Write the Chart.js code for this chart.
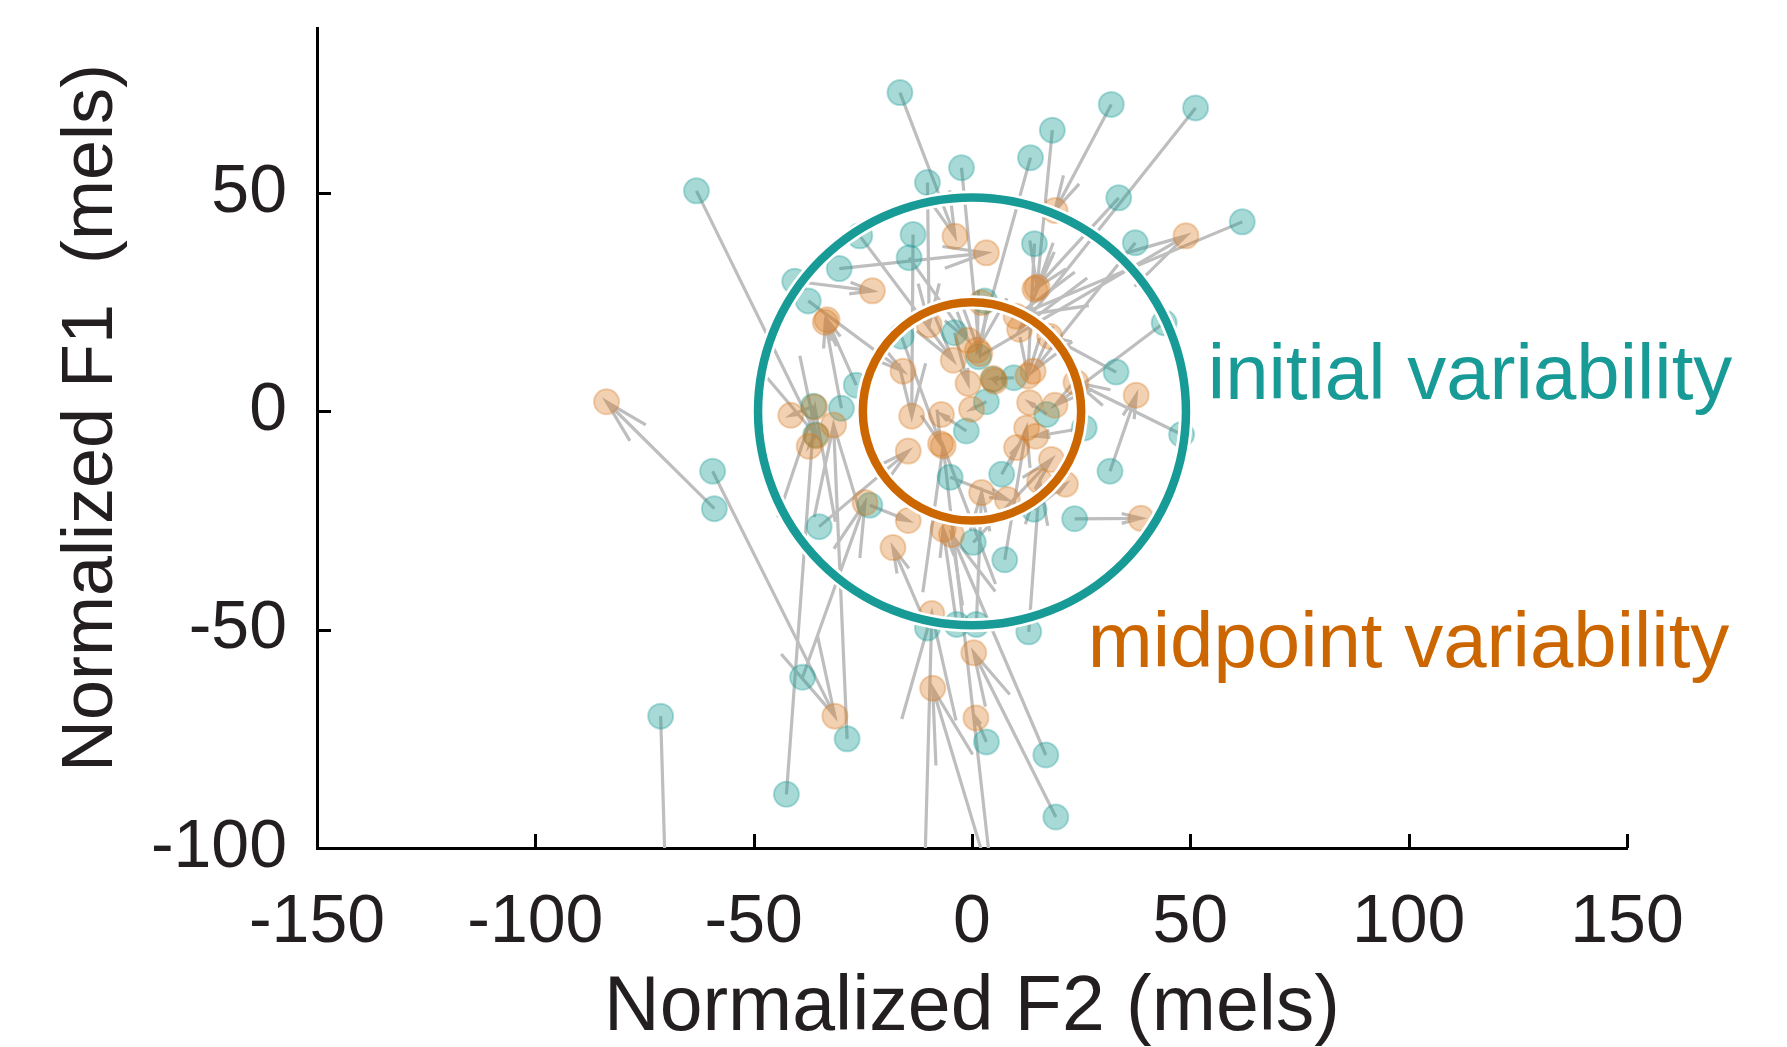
<!DOCTYPE html>
<html>
<head>
<meta charset="utf-8">
<title>Normalized F1 / F2</title>
<script src="https://cdn.jsdelivr.net/npm/chart.js@4.4.1/dist/chart.umd.min.js"></script>
<style>
  html,body{margin:0;padding:0;background:#fff;}
  canvas{display:block;}
</style>
</head>
<body>
<canvas id="ch" width="1787" height="1047"></canvas>
<script>
/* ===== data: one trial per index, initial (teal) -> midpoint (orange) ===== */
const initF2 = [-16.5, 31.9, 51.2, 18.4, 13.4, -63.1, -2.4, -10.2, 33.6, 61.9,
  -25.7, -13.5, 37.4, 14.3, -14.4, -30.4, -40.6, -37.5, 2.9, 44.0,
  -16.2, -4.0, 1.5, 33.0, -26.5, -29.9, 3.3, 9.6, 48.0, 25.7,
  -1.3, -59.4, 31.6, -5.0, 6.8, -59.0, -23.4, -35.0, 14.2, 23.5,
  0.3, 7.5, -10.2, -3.5, 1.0, 13.0, -38.8, -71.3, -28.6, 3.3,
  16.9, -42.5, 19.2, 17.1, -36.3, -35.8, 4.9, -11.5, 6.0, 8.0];
const initF1 = [73.0, 70.3, 69.5, 64.4, 58.1, 50.5, 55.8, 52.4, 48.9, 43.4,
  40.2, 40.5, 38.6, 38.4, 35.2, 32.7, 29.8, 25.3, 25.3, 20.3,
  17.2, 18.0, 12.5, 9.0, 6.0, 0.7, 2.2, 7.7, -5.3, -3.8,
  -4.5, -13.7, -13.7, -15.1, -14.4, -22.3, -21.5, -26.4, -22.4, -24.6,
  -30.0, -34.0, -49.6, -48.8, -48.8, -50.5, -60.9, -69.8, -75.0, -75.7,
  -78.7, -87.7, -92.9, -0.7, 1.2, -5.4, 7.3, -130, -120, -120];
const midF2 = [-3.9, 19.0, 10.9, 14.9, 1.2, -35.6, 1.8, -9.8, 14.4, 10.1,
  -4.3, -13.8, 14.0, 12.8, -0.9, 3.3, -22.8, -15.8, 2.2, 19.0,
  -7.2, -0.9, 49.0, 17.8, -33.2, -33.6, -0.1, 4.8, 23.8, 14.6,
  -7.0, -31.4, 37.6, 8.1, 10.2, -83.7, -14.6, -14.6, 21.4, 38.7,
  18.2, 12.5, -18.1, -6.6, 2.2, 15.5, -24.5, -69.5, -31.7, 0.9,
  -4.7, -36.0, 0.4, 13.2, -41.5, -37.3, 5.2, -9.2, -6.6, -9.0];
const midF1 = [40.1, 46.0, 18.8, 28.4, 14.0, -5.6, 13.2, 19.8, 28.0, 21.8,
  11.7, -1.1, 9.2, 8.1, 16.3, 36.3, 27.6, 9.2, 24.9, 1.4,
  -7.4, 6.4, 40.2, 17.2, 21.0, 20.4, 0.5, 7.5, 6.6, -5.7,
  -0.7, -69.8, 3.7, -20.2, -8.3, 2.2, -25.0, -9.1, -16.7, -24.5,
  -11.0, -3.8, -31.2, -27.0, -18.6, -16.0, -20.9, -130, -3.1, -70.2,
  -28.2, 1.0, -55.3, 2.0, -0.9, -8.0, 6.9, -46.3, -7.9, -63.4];

// variability circles (radius in mels): initial, midpoint
const ringRadius = [49, 25];
const ringLabels = ['initial variability', 'midpoint variability'];

const xTicks = [-150, -100, -50, 0, 50, 100, 150];
const yTicks = [-100, -50, 0, 50];

/* ===== styles ===== */
const TEAL = 'rgb(24,154,150)';
const ORANGE = 'rgb(204,102,0)';
const INK = '#231f20';
const FONT = '"Liberation Sans", Arial, Helvetica, sans-serif';

const pts = (xs, ys) => xs.map((x, i) => ({x, y: ys[i]}));

// grey arrows initial -> midpoint, clipped to the plot box
const arrows = {
  id: 'arrows',
  beforeDatasetsDraw(chart){
    const {ctx, chartArea: a, scales: {x, y}} = chart;
    ctx.save();
    ctx.beginPath(); ctx.rect(a.left, a.top, a.right - a.left, a.bottom - a.top); ctx.clip();
    ctx.strokeStyle = 'rgb(190,190,190)'; ctx.lineWidth = 3.2;
    initF2.forEach((v, i) => {
      const x0 = x.getPixelForValue(v), y0 = y.getPixelForValue(initF1[i]);
      const x1 = x.getPixelForValue(midF2[i]), y1 = y.getPixelForValue(midF1[i]);
      const len = Math.hypot(x1 - x0, y1 - y0); if(!len) return;
      const ang = Math.atan2(y1 - y0, x1 - x0), h = len * 0.3, sp = 0.25;
      ctx.beginPath();
      ctx.moveTo(x0, y0); ctx.lineTo(x1, y1);
      ctx.moveTo(x1 - h*Math.cos(ang - sp), y1 - h*Math.sin(ang - sp));
      ctx.lineTo(x1, y1);
      ctx.lineTo(x1 - h*Math.cos(ang + sp), y1 - h*Math.sin(ang + sp));
      ctx.stroke();
    });
    ctx.restore();
  }
};

// rings + their labels, inward tick marks
const rings = {
  id: 'rings',
  afterDatasetsDraw(chart){
    const {ctx, scales: {x, y}} = chart;
    const cx = x.getPixelForValue(0), cy = y.getPixelForValue(0);
    const cols = [TEAL, ORANGE];
    ctx.save();
    ringRadius.forEach((r, i) => {
      const rx = x.getPixelForValue(r) - cx, ry = cy - y.getPixelForValue(r);
      ctx.beginPath(); ctx.ellipse(cx, cy, rx, ry, 0, 0, Math.PI*2);
      ctx.strokeStyle = '#fff'; ctx.lineWidth = 14; ctx.stroke();
      ctx.strokeStyle = cols[i]; ctx.lineWidth = 8.5; ctx.stroke();
    });
    // labels (anchor in mels)
    const at = [[54.0, 2.8], [26.5, -58.5]];
    ctx.font = '78px ' + FONT; ctx.textBaseline = 'alphabetic'; ctx.textAlign = 'left';
    ringLabels.forEach((t, i) => {
      ctx.fillStyle = cols[i];
      ctx.fillText(t, x.getPixelForValue(at[i][0]), y.getPixelForValue(at[i][1]));
    });
    ctx.restore();
  },
  afterDraw(chart){
    const {ctx, chartArea: a, scales: {x, y}} = chart;
    ctx.save();
    ctx.strokeStyle = '#000'; ctx.lineWidth = 3;
    ctx.beginPath();
    xTicks.forEach(v => { const px = Math.round(x.getPixelForValue(v)) + 0.5; ctx.moveTo(px, a.bottom); ctx.lineTo(px, a.bottom - 14); });
    yTicks.forEach(v => { const py = Math.round(y.getPixelForValue(v)) + 0.5; ctx.moveTo(a.left, py); ctx.lineTo(a.left + 14, py); });
    ctx.stroke();
    ctx.restore();
  }
};

new Chart(document.getElementById('ch'), {
  type: 'scatter',
  data: {datasets: [
    {label: 'midpoint', data: pts(midF2, midF1), backgroundColor: 'rgba(214,120,30,0.34)',
     borderColor: 'rgba(214,120,30,0.32)', borderWidth: 2, pointRadius: 12.5, pointHoverRadius: 12.5},
    {label: 'initial', data: pts(initF2, initF1), backgroundColor: 'rgba(24,154,150,0.38)',
     borderColor: 'rgba(24,154,150,0.32)', borderWidth: 2, pointRadius: 12.5, pointHoverRadius: 12.5}
  ]},
  options: {
    responsive: false, animation: false, devicePixelRatio: 1, events: [],
    layout: {padding: {top: 28, right: 160, bottom: 0, left: 0}},
    plugins: {legend: {display: false}, tooltip: {enabled: false}},
    scales: {
      x: {
        type: 'linear', min: -150, max: 150,
        afterBuildTicks: s => { s.ticks = xTicks.map(v => ({value: v})); },
        afterFit: s => { s.height = 199; s.paddingLeft = 0; s.paddingRight = 0; },
        grid: {display: false},
        border: {display: true, color: '#000', width: 3},
        ticks: {font: {family: FONT, size: 68}, color: INK, padding: 26, maxRotation: 0, autoSkip: false, callback: v => String(v)},
        title: {display: true, text: 'Normalized F2 (mels)', color: INK,
                font: {family: FONT, size: 77, lineHeight: 1.0}, padding: {top: 0, bottom: 0}}
      },
      y: {
        type: 'linear', min: -100, max: 87.8,
        afterBuildTicks: s => { s.ticks = yTicks.map(v => ({value: v})); },
        afterFit: s => { s.width = 317; s.paddingTop = 0; s.paddingBottom = 0; },
        grid: {display: false},
        border: {display: true, color: '#000', width: 3},
        ticks: {font: {family: FONT, size: 68}, color: INK, padding: 22, autoSkip: false, callback: v => String(v)},
        title: {display: true, text: '  Normalized F1  (mels)', color: INK,
                font: {family: FONT, size: 72, lineHeight: 1.2}, padding: {top: 49, bottom: 0}}
      }
    }
  },
  plugins: [arrows, rings]
});
</script>
</body>
</html>
